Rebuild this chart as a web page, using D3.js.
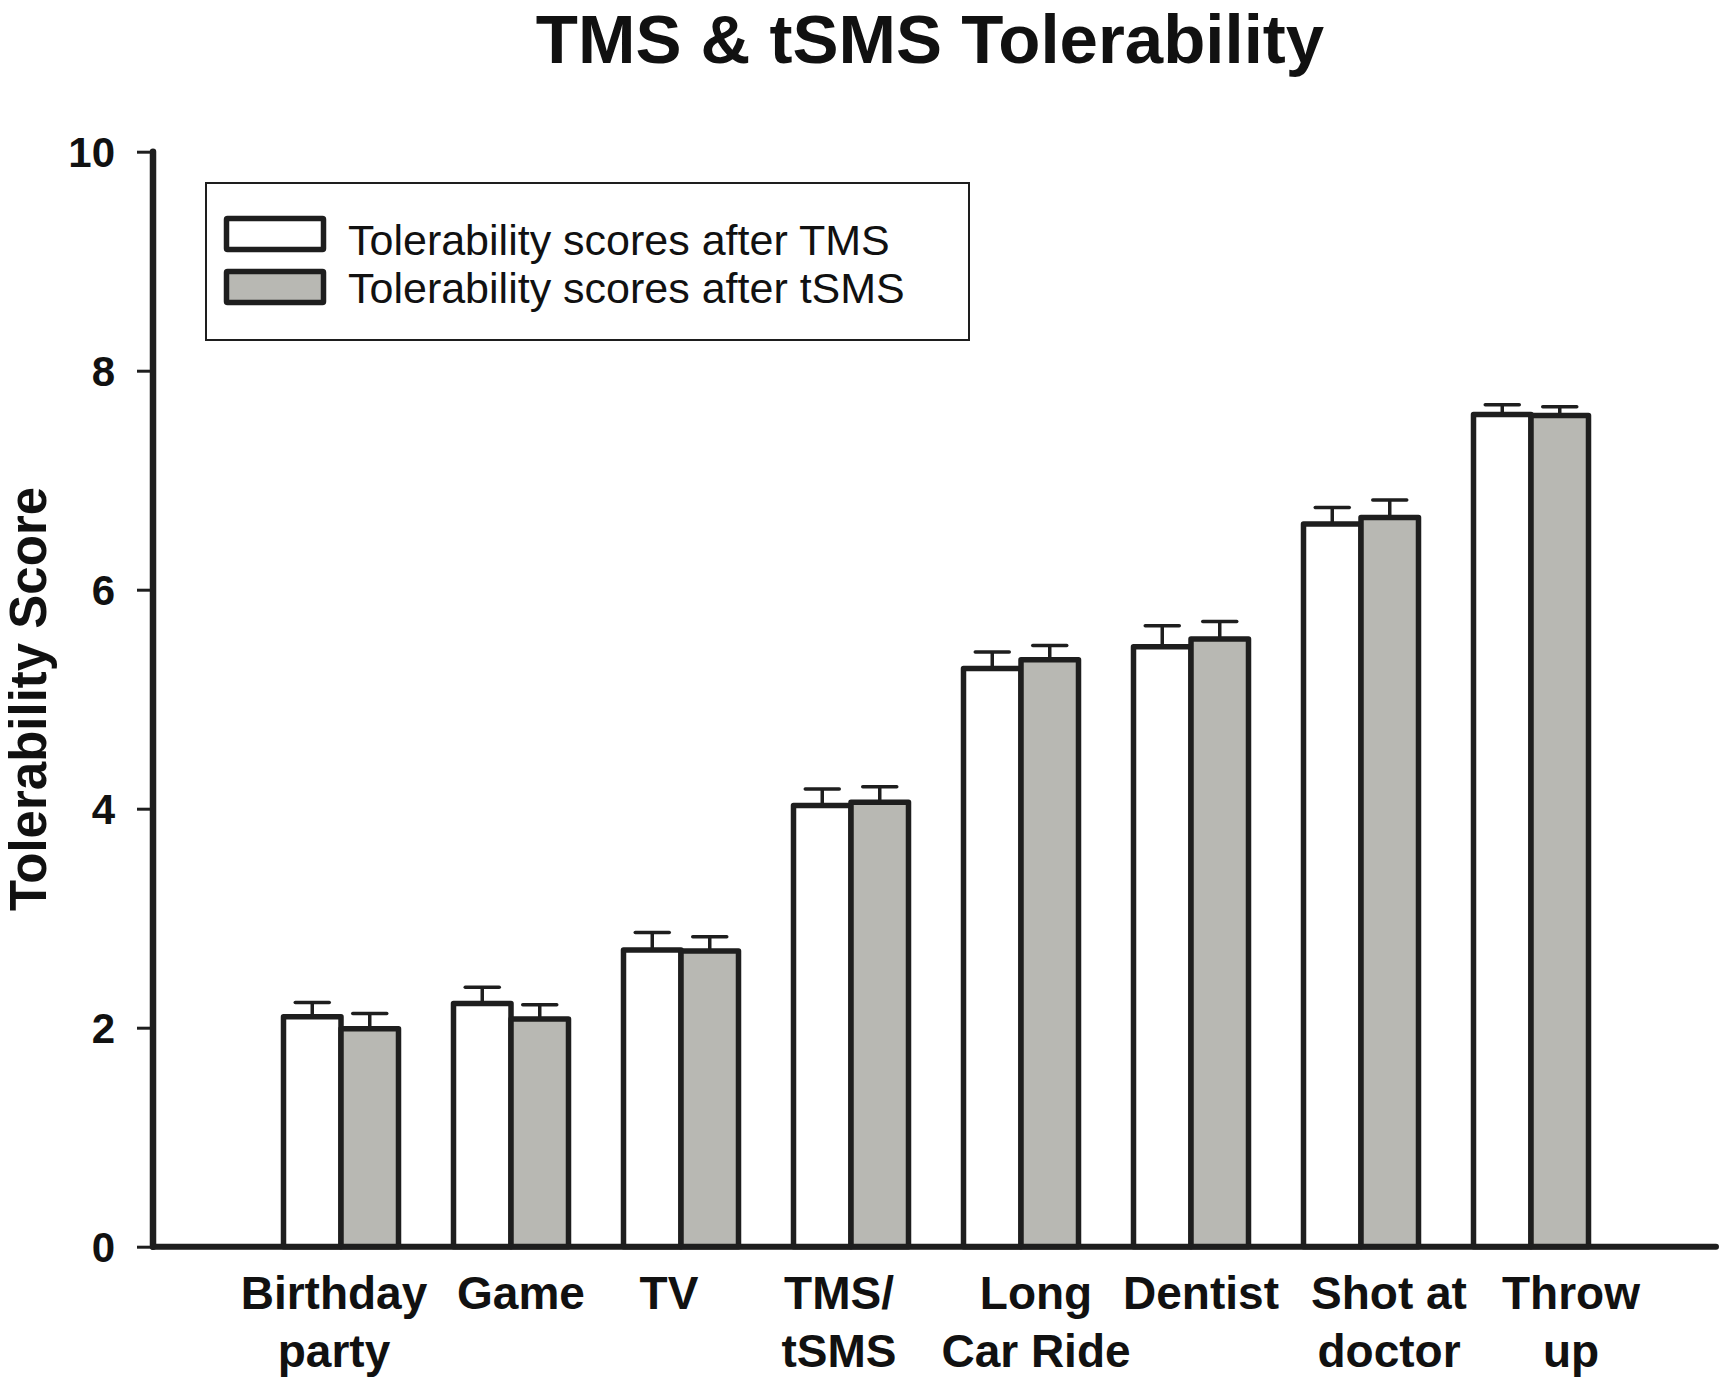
<!DOCTYPE html>
<html>
<head>
<meta charset="utf-8">
<script src="https://cdn.jsdelivr.net/npm/d3@7/dist/d3.min.js"></script>
<style>
  html, body { margin: 0; padding: 0; background: #fff; }
  svg { display: block; }
  text { font-family: "Liberation Sans", Arial, Helvetica, sans-serif; fill: #111; }
</style>
</head>
<body>
<svg id="chart" width="1725" height="1381"></svg>
<script>
// ---- data ----
const categories = ["Birthday party", "Game", "TV", "TMS/ tSMS", "Long Car Ride", "Dentist", "Shot at doctor", "Throw up"];
const categoryLines = [["Birthday", "party"], ["Game"], ["TV"], ["TMS/", "tSMS"], ["Long", "Car Ride"], ["Dentist"], ["Shot at", "doctor"], ["Throw", "up"]];
const seriesNames = ["Tolerability scores after TMS", "Tolerability scores after tSMS"];
const tmsValues  = [2.10, 2.22, 2.71, 4.03, 5.28, 5.48, 6.60, 7.60];
const tmsErrors  = [0.13, 0.15, 0.16, 0.15, 0.15, 0.19, 0.15, 0.09];
const tsmsValues = [1.99, 2.08, 2.70, 4.06, 5.36, 5.55, 6.66, 7.59];
const tsmsErrors = [0.14, 0.13, 0.13, 0.14, 0.13, 0.16, 0.16, 0.08];
const yTicks = [0, 2, 4, 6, 8, 10];
const titleText = "TMS & tSMS Tolerability";
const yTitle = "Tolerability Score";

// ---- layout (not data) ----
const labelNudge = [-7, 10, -12, -12, 15, 10, 28, 40];
const fills = ["#ffffff", "#b8b8b3"];
const ink = "#1e1e1e";

const svg = d3.select("#chart");

const y = d3.scaleLinear().domain([0, 10]).range([1246.7, 151.7]);
const x0 = d3.scaleBand().domain(categories).range([256, 1616])
  .paddingInner(1 - 115 / 170).paddingOuter((1 - 115 / 170) / 2);
const x1 = d3.scaleBand().domain(seriesNames).range([0, x0.bandwidth()]);

const rows = categories.map((c, i) => ({
  cat: c,
  vals: [
    { s: seriesNames[0], v: tmsValues[i], e: tmsErrors[i] },
    { s: seriesNames[1], v: tsmsValues[i], e: tsmsErrors[i] }
  ]
}));

// title
svg.append("text").attr("x", 930).attr("y", 63)
  .attr("text-anchor", "middle").attr("font-size", 69).attr("font-weight", "bold")
  .text(titleText);

// y title
svg.append("text").attr("transform", "translate(46,699) rotate(-90)")
  .attr("text-anchor", "middle").attr("font-size", 51).attr("font-weight", "bold")
  .text(yTitle);

// bars
const g = svg.append("g");
const groups = g.selectAll("g.grp").data(rows).join("g")
  .attr("class", "grp")
  .attr("transform", d => `translate(${x0(d.cat)},0)`);

// error bars (drawn first so bar tops cover their base)
groups.selectAll("g.err").data(d => d.vals).join("g").attr("class", "err")
  .each(function (d) {
    const cx = x1(d.s) + x1.bandwidth() / 2;
    const sel = d3.select(this);
    sel.append("line").attr("x1", cx).attr("x2", cx)
      .attr("y1", y(d.v)).attr("y2", y(d.v + d.e))
      .attr("stroke", ink).attr("stroke-width", 3.5);
    sel.append("line").attr("x1", cx - 17).attr("x2", cx + 17)
      .attr("y1", y(d.v + d.e)).attr("y2", y(d.v + d.e))
      .attr("stroke", ink).attr("stroke-width", 3.5).attr("stroke-linecap", "round");
  });

groups.selectAll("rect").data(d => d.vals).join("rect")
  .attr("x", d => x1(d.s))
  .attr("width", x1.bandwidth())
  .attr("y", d => y(d.v))
  .attr("height", d => y(0) - y(d.v))
  .attr("fill", (d, i) => fills[i])
  .attr("stroke", ink).attr("stroke-width", 5.5).attr("stroke-linejoin", "round");

// axes
svg.append("line").attr("x1", 153).attr("x2", 153).attr("y1", y(10)).attr("y2", y(0))
  .attr("stroke", ink).attr("stroke-width", 6.5).attr("stroke-linecap", "round");
svg.append("line").attr("x1", 153).attr("x2", 1716).attr("y1", y(0)).attr("y2", y(0))
  .attr("stroke", ink).attr("stroke-width", 6).attr("stroke-linecap", "round");

const yAxis = d3.axisLeft(y).tickValues(yTicks).tickSize(14).tickPadding(22).tickFormat(d3.format("d"));
const ya = svg.append("g").attr("transform", "translate(151,0)").call(yAxis);
ya.select(".domain").remove();
ya.selectAll(".tick line").attr("stroke", ink).attr("stroke-width", 3);
ya.selectAll(".tick text").attr("font-size", 42).attr("font-weight", "bold")
  .attr("fill", "#111").attr("font-family", "'Liberation Sans', Arial, sans-serif")
  .attr("dy", "0.36em");

// x labels
const xl = svg.append("g");
rows.forEach((d, i) => {
  const cx = x0(d.cat) + x0.bandwidth() / 2 + labelNudge[i];
  const t = xl.append("text").attr("text-anchor", "middle")
    .attr("font-size", 46).attr("font-weight", "bold");
  categoryLines[i].forEach((line, k) => {
    t.append("tspan").attr("x", cx).attr("y", 1309 + k * 58).text(line);
  });
});

// legend
const lg = svg.append("g");
lg.append("rect").attr("x", 206).attr("y", 183).attr("width", 763).attr("height", 157)
  .attr("fill", "#fff").attr("stroke", ink).attr("stroke-width", 2);
const legendY = [218.5, 271.5];
const legendTextY = [255, 303];
seriesNames.forEach((s, i) => {
  lg.append("rect").attr("x", 226.5).attr("y", legendY[i]).attr("width", 97).attr("height", 31)
    .attr("fill", fills[i]).attr("stroke", ink).attr("stroke-width", 5.5).attr("rx", 1);
  lg.append("text").attr("x", 348).attr("y", legendTextY[i])
    .attr("font-size", 43).text(s);
});
</script>
</body>
</html>
